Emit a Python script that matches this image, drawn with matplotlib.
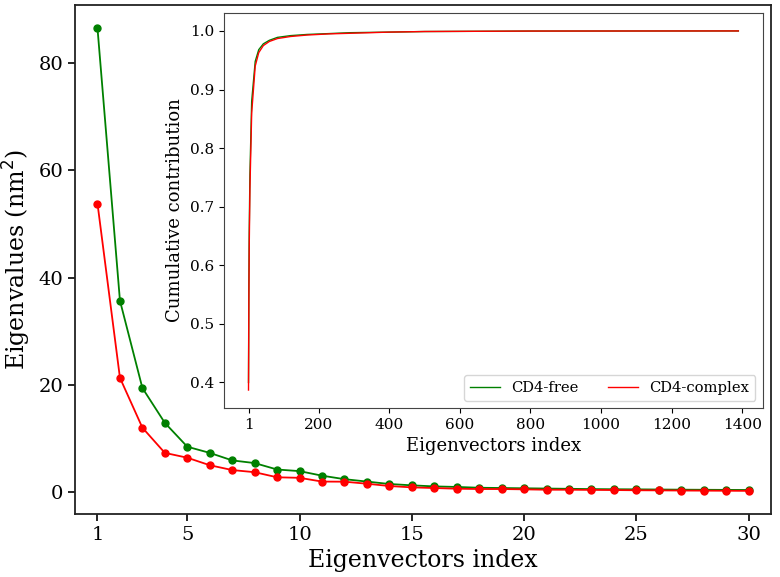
import matplotlib
matplotlib.use("Agg")
import matplotlib.pyplot as plt

plt.rcParams['font.family'] = ['DejaVu Serif']

# Main plot data: first 30 eigenvalues
idx = list(range(1, 31))
free_eig = [86.5, 35.7, 19.4, 12.9, 8.45, 7.3, 5.9, 5.4, 4.2, 3.9,
            3.05, 2.4, 1.95, 1.5, 1.25, 1.05, 0.95, 0.8, 0.75, 0.7,
            0.65, 0.6, 0.55, 0.52, 0.5, 0.47, 0.44, 0.42, 0.4, 0.38]
complex_eig = [53.8, 21.3, 12.0, 7.3, 6.4, 5.0, 4.1, 3.7, 2.75, 2.65,
               1.95, 1.93, 1.55, 1.12, 0.87, 0.75, 0.62, 0.56, 0.56, 0.5,
               0.43, 0.43, 0.4, 0.37, 0.33, 0.31, 0.28, 0.26, 0.24, 0.22]

# Inset: cumulative contribution read at selected indices
cum_idx = [1, 2, 3, 5, 10, 20, 30, 43, 60, 83, 120, 167, 230, 288, 400, 500, 800, 1389]
free_cum = [0.40, 0.565, 0.655, 0.755, 0.88, 0.948, 0.968, 0.978, 0.984, 0.989,
            0.992, 0.994, 0.9955, 0.997, 0.998, 0.999, 0.9998, 1.0]
complex_cum = [0.387, 0.54, 0.63, 0.73, 0.86, 0.94, 0.963, 0.975, 0.982, 0.987,
               0.9905, 0.993, 0.995, 0.996, 0.998, 0.999, 0.9998, 1.0]

main_xticks = [1, 5, 10, 15, 20, 25, 30]
main_yticks = [0, 20, 40, 60, 80]
inset_xticks = [1, 200, 400, 600, 800, 1000, 1200, 1400]
inset_yticks = [0.4, 0.5, 0.6, 0.7, 0.8, 0.9, 1.0]

fig = plt.figure(figsize=(7.8, 5.77), dpi=100)
ax = fig.add_axes([0.0962, 0.1092, 0.8923, 0.8821])
ax.plot(idx, free_eig, color='green', marker='o', markersize=5, linewidth=1.3)
ax.plot(idx, complex_eig, color='red', marker='o', markersize=5, linewidth=1.3)
ax.set_xlim(0, 31)
ax.set_xticks(main_xticks)
ax.set_yticks(main_yticks)
ax.tick_params(labelsize=14, length=5, width=1.2)
ax.set_xlabel('Eigenvectors index', fontsize=17)
ax.set_ylabel('Eigenvalues (nm$^2$)', fontsize=17)
for s in ax.spines.values():
    s.set_linewidth(1.3)
    s.set_color('#222222')

ins = fig.add_axes([0.2872, 0.2929, 0.6908, 0.6846])
ins.plot(cum_idx, free_cum, color='green', linewidth=1.0, label='CD4-free')
ins.plot(cum_idx, complex_cum, color='red', linewidth=1.0, label='CD4-complex')
ins.set_xticks(inset_xticks)
ins.set_yticks(inset_yticks)
ins.tick_params(labelsize=11)
ins.set_xlabel('Eigenvectors index', fontsize=13)
ins.set_ylabel('Cumulative contribution', fontsize=13)
for s in ins.spines.values():
    s.set_color('#444444')
ins.legend(loc='lower right', ncol=2, fontsize=10.6, frameon=True)

fig.savefig('out.png', dpi=100)
